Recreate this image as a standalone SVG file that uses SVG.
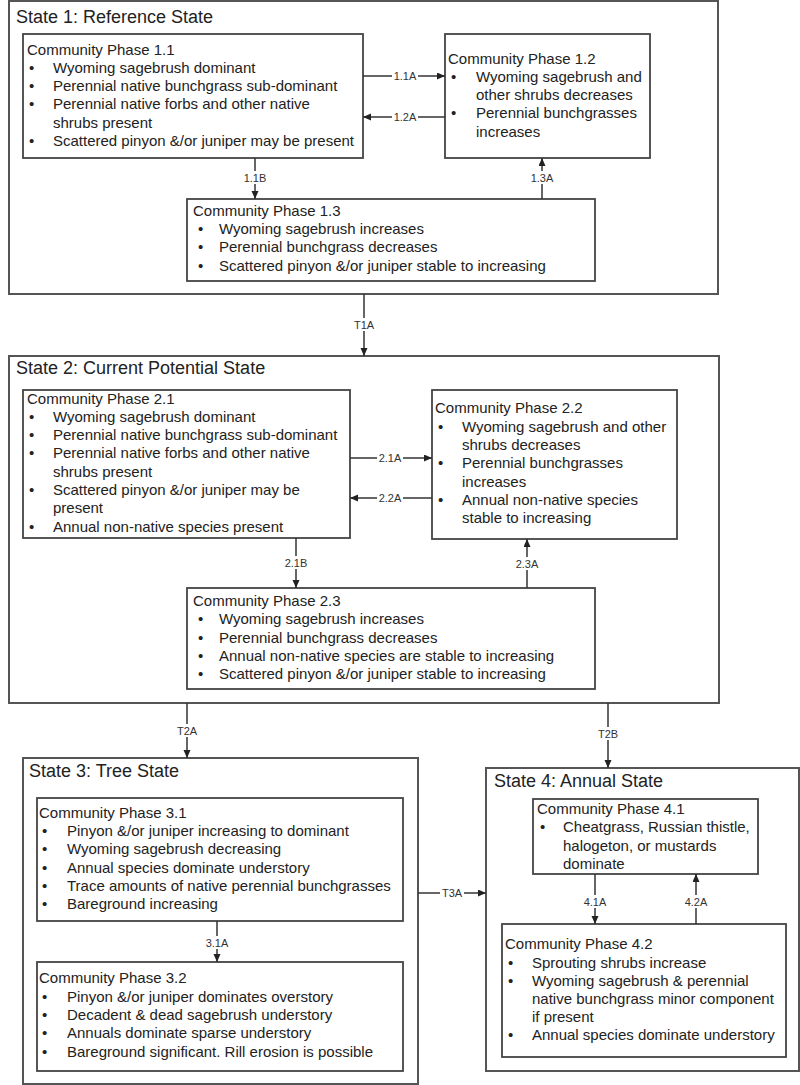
<svg xmlns="http://www.w3.org/2000/svg" width="800" height="1085" viewBox="0 0 800 1085">
<style>
.state{fill:#fff;stroke:#555;stroke-width:2}
.phase{fill:#fff;stroke:#444;stroke-width:1.8}
.st{font-family:"Liberation Sans",Arial,sans-serif;font-size:18px;fill:#222}
.t{font-family:"Liberation Sans",Arial,sans-serif;font-size:15px;fill:#222}
.lbl{font-family:"Liberation Sans",Arial,sans-serif;font-size:11px;fill:#333;text-anchor:middle}
.bg{fill:#fff}
.c{stroke:#333;stroke-width:1.5;fill:none}
</style>
<defs>
<marker id="ah" markerWidth="9" markerHeight="8" refX="8" refY="3.5" orient="auto" markerUnits="userSpaceOnUse">
<path d="M0,0 L8,3.5 L0,7 z" fill="#222"/>
</marker>
</defs>
<rect width="800" height="1085" fill="#fff"/>

<g id="state1">
<rect class="state" x="9" y="1" width="709" height="293"/>
<text class="st" x="16" y="23">State 1: Reference State</text>
</g>
<g id="phase1_1">
<rect class="phase" x="23" y="34" width="340" height="124"/>
<text class="t" x="27" y="55">Community Phase 1.1</text>
<text class="t" x="29" y="73">•</text><text class="t" x="53" y="73">Wyoming sagebrush dominant</text>
<text class="t" x="29" y="91">•</text><text class="t" x="53" y="91">Perennial native bunchgrass sub-dominant</text>
<text class="t" x="29" y="109">•</text><text class="t" x="53" y="109">Perennial native forbs and other native</text>
<text class="t" x="53" y="128">shrubs present</text>
<text class="t" x="29" y="146">•</text><text class="t" x="53" y="146">Scattered pinyon &amp;/or juniper may be present</text>
</g>
<g id="phase1_2">
<rect class="phase" x="445" y="34" width="205" height="124"/>
<text class="t" x="448" y="64">Community Phase 1.2</text>
<text class="t" x="451" y="82">•</text><text class="t" x="476" y="82">Wyoming sagebrush and</text>
<text class="t" x="476" y="100">other shrubs decreases</text>
<text class="t" x="451" y="118">•</text><text class="t" x="476" y="118">Perennial bunchgrasses</text>
<text class="t" x="476" y="137">increases</text>
</g>
<g id="phase1_3">
<rect class="phase" x="187" y="199" width="408" height="82"/>
<text class="t" x="193" y="216">Community Phase 1.3</text>
<text class="t" x="198" y="234">•</text><text class="t" x="219" y="234">Wyoming sagebrush increases</text>
<text class="t" x="198" y="252">•</text><text class="t" x="219" y="252">Perennial bunchgrass decreases</text>
<text class="t" x="198" y="271">•</text><text class="t" x="219" y="271">Scattered pinyon &amp;/or juniper stable to increasing</text>
</g>

<g id="state2">
<rect class="state" x="9" y="356" width="710" height="347"/>
<text class="st" x="16" y="374">State 2: Current Potential State</text>
</g>
<g id="phase2_1">
<rect class="phase" x="23" y="390" width="327" height="148"/>
<text class="t" x="27" y="404">Community Phase 2.1</text>
<text class="t" x="29" y="422">•</text><text class="t" x="53" y="422">Wyoming sagebrush dominant</text>
<text class="t" x="29" y="440">•</text><text class="t" x="53" y="440">Perennial native bunchgrass sub-dominant</text>
<text class="t" x="29" y="458">•</text><text class="t" x="53" y="458">Perennial native forbs and other native</text>
<text class="t" x="53" y="477">shrubs present</text>
<text class="t" x="29" y="495">•</text><text class="t" x="53" y="495">Scattered pinyon &amp;/or juniper may be</text>
<text class="t" x="53" y="513">present</text>
<text class="t" x="29" y="532">•</text><text class="t" x="53" y="532">Annual non-native species present</text>
</g>
<g id="phase2_2">
<rect class="phase" x="432" y="390" width="245" height="149"/>
<text class="t" x="435" y="413">Community Phase 2.2</text>
<text class="t" x="438" y="432">•</text><text class="t" x="462" y="432">Wyoming sagebrush and other</text>
<text class="t" x="462" y="450">shrubs decreases</text>
<text class="t" x="438" y="468">•</text><text class="t" x="462" y="468">Perennial bunchgrasses</text>
<text class="t" x="462" y="487">increases</text>
<text class="t" x="438" y="505">•</text><text class="t" x="462" y="505">Annual non-native species</text>
<text class="t" x="462" y="523">stable to increasing</text>
</g>
<g id="phase2_3">
<rect class="phase" x="187" y="588" width="408" height="101"/>
<text class="t" x="193" y="606">Community Phase 2.3</text>
<text class="t" x="198" y="624">•</text><text class="t" x="219" y="624">Wyoming sagebrush increases</text>
<text class="t" x="198" y="643">•</text><text class="t" x="219" y="643">Perennial bunchgrass decreases</text>
<text class="t" x="198" y="661">•</text><text class="t" x="219" y="661">Annual non-native species are stable to increasing</text>
<text class="t" x="198" y="679">•</text><text class="t" x="219" y="679">Scattered pinyon &amp;/or juniper stable to increasing</text>
</g>

<g id="state3">
<rect class="state" x="23" y="758" width="395" height="326"/>
<text class="st" x="29" y="777">State 3: Tree State</text>
</g>
<g id="phase3_1">
<rect class="phase" x="37" y="798" width="366" height="123"/>
<text class="t" x="39" y="818">Community Phase 3.1</text>
<text class="t" x="42" y="836">•</text><text class="t" x="67" y="836">Pinyon &amp;/or juniper increasing to dominant</text>
<text class="t" x="42" y="854">•</text><text class="t" x="67" y="854">Wyoming sagebrush decreasing</text>
<text class="t" x="42" y="873">•</text><text class="t" x="67" y="873">Annual species dominate understory</text>
<text class="t" x="42" y="891">•</text><text class="t" x="67" y="891">Trace amounts of native perennial bunchgrasses</text>
<text class="t" x="42" y="909">•</text><text class="t" x="67" y="909">Bareground increasing</text>
</g>
<g id="phase3_2">
<rect class="phase" x="37" y="962" width="366" height="109"/>
<text class="t" x="39" y="983">Community Phase 3.2</text>
<text class="t" x="42" y="1002">•</text><text class="t" x="67" y="1002">Pinyon &amp;/or juniper dominates overstory</text>
<text class="t" x="42" y="1020">•</text><text class="t" x="67" y="1020">Decadent &amp; dead sagebrush understory</text>
<text class="t" x="42" y="1038">•</text><text class="t" x="67" y="1038">Annuals dominate sparse understory</text>
<text class="t" x="42" y="1057">•</text><text class="t" x="67" y="1057">Bareground significant. Rill erosion is possible</text>
</g>

<g id="state4">
<rect class="state" x="486" y="768" width="313" height="303"/>
<text class="st" x="494" y="787">State 4: Annual State</text>
</g>
<g id="phase4_1">
<rect class="phase" x="533" y="799" width="225" height="75"/>
<text class="t" x="537" y="814">Community Phase 4.1</text>
<text class="t" x="540" y="832">•</text><text class="t" x="563" y="832">Cheatgrass, Russian thistle,</text>
<text class="t" x="563" y="851">halogeton, or mustards</text>
<text class="t" x="563" y="869">dominate</text>
</g>
<g id="phase4_2">
<rect class="phase" x="502" y="924" width="284" height="133"/>
<text class="t" x="505" y="949">Community Phase 4.2</text>
<text class="t" x="508" y="968">•</text><text class="t" x="532" y="968">Sprouting shrubs increase</text>
<text class="t" x="508" y="986">•</text><text class="t" x="532" y="986">Wyoming sagebrush &amp; perennial</text>
<text class="t" x="532" y="1004">native bunchgrass minor component</text>
<text class="t" x="532" y="1022">if present</text>
<text class="t" x="508" y="1040">•</text><text class="t" x="532" y="1040">Annual species dominate understory</text>
</g>

<g id="connectors">
<line class="c" x1="363" y1="76" x2="445" y2="76" marker-end="url(#ah)"/>
<rect class="bg" x="392" y="70" width="26" height="12"/>
<text class="lbl" x="405" y="80">1.1A</text>
<line class="c" x1="445" y1="117" x2="363" y2="117" marker-end="url(#ah)"/>
<rect class="bg" x="392" y="111" width="26" height="12"/>
<text class="lbl" x="405" y="121">1.2A</text>
<line class="c" x1="255" y1="158" x2="255" y2="199" marker-end="url(#ah)"/>
<rect class="bg" x="242" y="171" width="26" height="13"/>
<text class="lbl" x="255" y="182">1.1B</text>
<line class="c" x1="542" y1="199" x2="542" y2="158" marker-end="url(#ah)"/>
<rect class="bg" x="529" y="171" width="26" height="13"/>
<text class="lbl" x="542" y="182">1.3A</text>
<line class="c" x1="364" y1="294" x2="364" y2="356" marker-end="url(#ah)"/>
<rect class="bg" x="352" y="318" width="24" height="13"/>
<text class="lbl" x="364" y="329">T1A</text>

<line class="c" x1="350" y1="458" x2="432" y2="458" marker-end="url(#ah)"/>
<rect class="bg" x="377" y="452" width="26" height="12"/>
<text class="lbl" x="390" y="462">2.1A</text>
<line class="c" x1="432" y1="498" x2="350" y2="498" marker-end="url(#ah)"/>
<rect class="bg" x="377" y="492" width="26" height="12"/>
<text class="lbl" x="390" y="502">2.2A</text>
<line class="c" x1="296" y1="538" x2="296" y2="588" marker-end="url(#ah)"/>
<rect class="bg" x="283" y="556" width="26" height="13"/>
<text class="lbl" x="296" y="567">2.1B</text>
<line class="c" x1="527" y1="588" x2="527" y2="539" marker-end="url(#ah)"/>
<rect class="bg" x="514" y="557" width="26" height="13"/>
<text class="lbl" x="527" y="568">2.3A</text>
<line class="c" x1="187" y1="703" x2="187" y2="758" marker-end="url(#ah)"/>
<rect class="bg" x="175" y="724" width="24" height="13"/>
<text class="lbl" x="187" y="735">T2A</text>
<line class="c" x1="608" y1="703" x2="608" y2="768" marker-end="url(#ah)"/>
<rect class="bg" x="596" y="727" width="24" height="13"/>
<text class="lbl" x="608" y="738">T2B</text>

<line class="c" x1="217" y1="921" x2="217" y2="962" marker-end="url(#ah)"/>
<rect class="bg" x="204" y="936" width="26" height="13"/>
<text class="lbl" x="217" y="947">3.1A</text>
<line class="c" x1="418" y1="893" x2="486" y2="893" marker-end="url(#ah)"/>
<rect class="bg" x="440" y="887" width="24" height="12"/>
<text class="lbl" x="452" y="897">T3A</text>
<line class="c" x1="595" y1="874" x2="595" y2="924" marker-end="url(#ah)"/>
<rect class="bg" x="582" y="895" width="26" height="13"/>
<text class="lbl" x="595" y="906">4.1A</text>
<line class="c" x1="696" y1="924" x2="696" y2="874" marker-end="url(#ah)"/>
<rect class="bg" x="683" y="895" width="26" height="13"/>
<text class="lbl" x="696" y="906">4.2A</text>
</g>
</svg>
